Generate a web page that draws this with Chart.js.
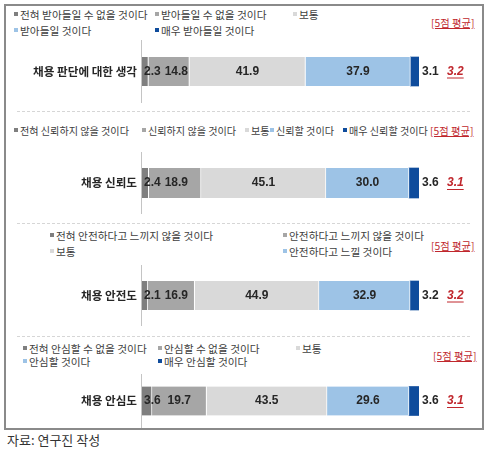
<!DOCTYPE html>
<html>
<head>
<meta charset="utf-8">
<script src="https://cdn.jsdelivr.net/npm/chart.js@4.4.1/dist/chart.umd.min.js"></script>
<style>
  html, body { margin: 0; padding: 0; background: #fff; }
  body { width: 492px; height: 453px; position: relative; overflow: hidden; font-family: "Noto Sans CJK KR", "Noto Sans", sans-serif; }
  #box { position: absolute; left: 4px; top: 4px; width: 480px; height: 426px; border: 2px solid #8a8a8a; box-sizing: border-box; }
  .panel { position: absolute; left: 10px; width: 470px; }
  .lg { position: absolute; height: 14px; line-height: 14px; font-size: 10.7px; color: #404040; white-space: nowrap; }
  .lg i { display: inline-block; width: 4px; height: 4px; margin-right: 2px; vertical-align: 3px; }
  .tag { position: absolute; height: 14px; line-height: 14px; font-size: 10.3px; color: #c0272d; text-decoration: underline; white-space: nowrap; }
  .sep { position: absolute; left: 17px; width: 453px; height: 0; border-top: 1px dashed #d6d6d6; }
  #src { position: absolute; left: 7px; top: 431px; font-size: 13px; line-height: 17px; color: #333; }
</style>
</head>
<body>
<div id="box"></div>
<div class="sep" style="top:111px"></div>
<div class="sep" style="top:223px"></div>
<div class="sep" style="top:336px"></div>
<div id="src">자료: 연구진 작성</div>
<script>
const categories = ['채용 판단에 대한 생각', '채용 신뢰도', '채용 안전도', '채용 안심도'];
const strongNo = [2.3, 2.4, 2.1, 3.6];
const no = [14.8, 18.9, 16.9, 19.7];
const neutral = [41.9, 45.1, 44.9, 43.5];
const yes = [37.9, 30.0, 32.9, 29.6];
const strongYes = [3.1, 3.6, 3.2, 3.6];
const averages = ['3.2', '3.1', '3.2', '3.1'];
const averageTag = '[5점 평균]';

const legendLabels = [
    ['전혀 받아들일 수 없을 것이다', '받아들일 수 없을 것이다', '보통', '받아들일 것이다', '매우 받아들일 것이다'],
    ['전혀 신뢰하지 않을 것이다', '신뢰하지 않을 것이다', '보통', '신뢰할 것이다', '매우 신뢰할 것이다'],
    ['전혀 안전하다고 느끼지 않을 것이다', '안전하다고 느끼지 않을 것이다', '보통', '안전하다고 느낄 것이다'],
    ['전혀 안심할 수 없을 것이다', '안심할 수 없을 것이다', '보통', '안심할 것이다', '매우 안심할 것이다'],
];

const COLORS = ['#7f7f7f', '#a6a6a6', '#d9d9d9', '#9dc3e6', '#0f4c9c'];

// layout: canvas top/height, extra top padding, legend item spots, tag spot
const panels = [
    { top: 40, height: 63, padTop: 0, bar: 29, legendSize: 10.7,
      legend: [[14, 15], [155, 15], [293, 15], [14, 31], [155, 31]], tag: [431, 23] },
    { top: 152, height: 62, padTop: 0, bar: 30, legendSize: 10.1,
      legend: [[14, 131], [142, 131], [245, 131], [270, 131], [343, 131]], tag: [430, 131] },
    { top: 265, height: 61, padTop: 0, bar: 29, legendSize: 10.7,
      legend: [[50, 236], [283, 236], [50, 252], [283, 252]], tag: [431, 246] },
    { top: 374, height: 54, padTop: 11, bar: 29, legendSize: 10.7,
      legend: [[23, 349], [158, 349], [296, 349], [23, 362], [158, 362]], tag: [433, 356] },
];

const valueLabels = {
    id: 'valueLabels',
    afterDatasetsDraw(chart) {
        const ctx = chart.ctx;
        const area = chart.chartArea;
        const last = chart.data.datasets.length - 1;
        ctx.save();

        // axis line, full canvas height
        ctx.strokeStyle = '#c4c4c4';
        ctx.lineWidth = 1;
        ctx.beginPath();
        ctx.moveTo(area.left - 0.5, 0);
        ctx.lineTo(area.left - 0.5, chart.height);
        ctx.stroke();

        ctx.font = 'bold 12px "Liberation Sans", Arial, sans-serif';
        ctx.fillStyle = '#262626';
        ctx.textBaseline = 'middle';
        let barY = 0;
        let prevRight = area.left - 2;
        chart.data.datasets.forEach((ds, di) => {
            const bar = chart.getDatasetMeta(di).data[0];
            const text = ds.data[0].toFixed(1);
            barY = bar.y;
            if (di === last) {
                ctx.textAlign = 'left';
                ctx.fillText(text, bar.x + 3, bar.y);
            } else {
                // centre on the segment, nudged right so labels don't collide
                const w = ctx.measureText(text).width;
                let left = (bar.x + bar.base) / 2 - w / 2;
                left = Math.max(left, area.left + 1, prevRight + 4);
                ctx.textAlign = 'left';
                ctx.fillText(text, left, bar.y);
                prevRight = left + w;
            }
        });

        const avg = chart.options.plugins.valueLabels.average;
        ctx.font = 'italic bold 12px "Liberation Sans", Arial, sans-serif';
        ctx.fillStyle = '#c0272d';
        ctx.textAlign = 'left';
        const ax = area.right + 28;
        ctx.fillText(avg, ax, barY);
        const aw = ctx.measureText(avg).width;
        ctx.strokeStyle = '#c0272d';
        ctx.beginPath();
        ctx.moveTo(ax, barY + 6.5);
        ctx.lineTo(ax + aw, barY + 6.5);
        ctx.stroke();
        ctx.restore();
    },
};

const seriesValues = [strongNo, no, neutral, yes, strongYes];

panels.forEach((p, i) => {
    // legend (html)
    legendLabels[i].forEach((label, k) => {
        const el = document.createElement('div');
        el.className = 'lg';
        el.style.left = p.legend[k][0] + 'px';
        el.style.top = (p.legend[k][1] - 7) + 'px';
        el.style.fontSize = p.legendSize + 'px';
        el.innerHTML = '<i style="background:' + COLORS[k] + '"></i>' + label;
        document.body.appendChild(el);
    });
    const tag = document.createElement('div');
    tag.className = 'tag';
    tag.style.left = p.tag[0] + 'px';
    tag.style.top = (p.tag[1] - 7) + 'px';
    tag.textContent = averageTag;
    document.body.appendChild(tag);

    const wrap = document.createElement('div');
    wrap.className = 'panel';
    wrap.style.top = p.top + 'px';
    wrap.style.height = p.height + 'px';
    const canvas = document.createElement('canvas');
    wrap.appendChild(canvas);
    document.body.appendChild(wrap);

    new Chart(canvas, {
        type: 'bar',
        data: {
            labels: [categories[i]],
            datasets: seriesValues.map((vals, k) => ({
                label: k < legendLabels[i].length ? legendLabels[i][k] : '',
                data: [vals[i]],
                backgroundColor: COLORS[k],
                borderColor: '#ffffff',
                borderWidth: { top: 0, bottom: 0, left: 0, right: k === 4 ? 0 : 1 },
                borderSkipped: false,
                barThickness: p.bar,
            })),
        },
        options: {
            indexAxis: 'y',
            responsive: true,
            maintainAspectRatio: false,
            animation: false,
            events: [],
            layout: { padding: { top: p.padTop, right: 61, bottom: 0, left: 0 } },
            scales: {
                x: { stacked: true, min: 0, max: 100, display: false },
                y: {
                    stacked: true,
                    grid: { display: false, drawTicks: false },
                    border: { display: false },
                    ticks: {
                        padding: 5,
                        color: '#262626',
                        font: { family: '"Noto Sans CJK KR", sans-serif', size: 11.6, weight: 'bold' },
                    },
                    afterFit(scale) { scale.width = 132; },
                },
            },
            plugins: {
                legend: { display: false },
                tooltip: { enabled: false },
                valueLabels: { average: averages[i] },
            },
        },
        plugins: [valueLabels],
    });
});
</script>
</body>
</html>
